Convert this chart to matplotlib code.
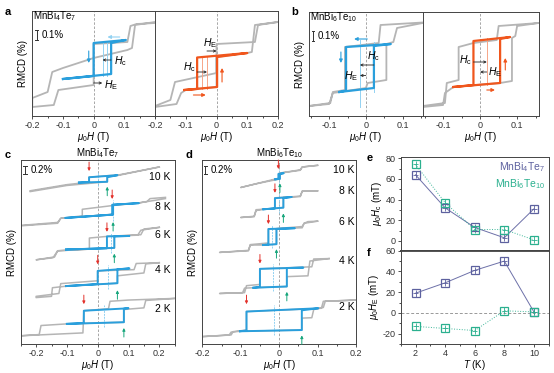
import numpy as np
import matplotlib
matplotlib.use('Agg')
import matplotlib.pyplot as plt
from matplotlib.ticker import MultipleLocator

plt.rcParams['font.family'] = ['Liberation Sans', 'DejaVu Sans']
plt.rcParams['mathtext.fontset'] = 'custom'
plt.rcParams['mathtext.rm'] = 'Liberation Sans'
plt.rcParams['mathtext.it'] = 'Liberation Sans:italic'
plt.rcParams['axes.unicode_minus'] = False
plt.rcParams['font.size'] = 6.5

GRAY = '#b5b5b5'
BLUE = '#2a9fdc'
LBLUE = '#93d2f2'
ORANGE = '#f0561d'
LORANGE = '#f7a688'
RED = '#e3312b'
GREEN = '#17a67c'
PURPLE = '#5d619f'
TEAL = '#2bb08f'

# ---- panel a (MnBi4Te7), field in T, RMCD in % ----
a1_gray = ([0.2, 0.14, 0.12, 0.11, 0.0, 0.0, -0.1, -0.135, -0.15, -0.2,
            -0.2, -0.13, -0.115, 0.0, 0.0, 0.11, 0.125, 0.135, 0.2],
           [0.93, 0.92, 0.90, 0.74, 0.72, 0.58, 0.48, 0.44, 0.24, 0.18,
            0.09, 0.11, 0.26, 0.31, 0.58, 0.66, 0.68, 0.91, 0.94])
a1_minor = ([-0.1, 0.057, 0.057, 0.105, 0.0, 0.0, -0.1],
            [0.37, 0.42, 0.73, 0.76, 0.73, 0.40, 0.37])
a2_gray = ([0.2, 0.135, 0.125, 0.0, 0.0, -0.135, -0.15, -0.2,
            -0.2, -0.13, -0.115, -0.1, 0.0, 0.0, 0.1, 0.115, 0.125, 0.2],
           [0.94, 0.91, 0.74, 0.72, 0.43, 0.34, 0.16, 0.10,
            0.09, 0.12, 0.23, 0.26, 0.29, 0.59, 0.63, 0.64, 0.91, 0.94])
a2_minor = ([-0.105, 0.002, 0.002, 0.1, -0.063, -0.063, -0.105],
            [0.26, 0.29, 0.59, 0.63, 0.585, 0.27, 0.26])

# ---- panel b (MnBi6Te10) ----
b1_gray = ([0.155, 0.04, 0.035, -0.057, -0.057, -0.09, -0.097, -0.155,
            -0.155, -0.1, -0.09, 0.0, 0.005, 0.056, 0.056, 0.075, 0.085, 0.155],
           [0.935, 0.91, 0.73, 0.69, 0.26, 0.24, 0.13, 0.10,
            0.10, 0.12, 0.23, 0.28, 0.33, 0.36, 0.72, 0.74, 0.88, 0.93])
b1_minor = ([-0.072, 0.022, 0.022, 0.068, -0.054, -0.054, -0.072],
            [0.24, 0.28, 0.70, 0.72, 0.69, 0.255, 0.24])
b2_gray = ([0.158, 0.05, 0.045, -0.018, -0.058, -0.058, -0.09, -0.095, -0.155,
            -0.155, -0.1, -0.095, -0.072, 0.054, 0.086, 0.086, 0.095, 0.1, 0.158],
           [0.93, 0.90, 0.76, 0.73, 0.69, 0.36, 0.33, 0.13, 0.10,
            0.09, 0.11, 0.23, 0.29, 0.33, 0.35, 0.78, 0.80, 0.90, 0.93])
b2_minor = ([-0.072, 0.054, 0.054, 0.081, -0.018, -0.018, -0.072],
            [0.29, 0.33, 0.77, 0.79, 0.75, 0.31, 0.29])

# ---- panel c (MnBi4Te7, offset curves) ----
temps = [2, 4, 6, 8, 10]
c_gray = {
    10: ([0.2, 0.07, -0.028, -0.028, -0.1, -0.22, -0.22, -0.1, 0.031, 0.031, 0.07, 0.2],
         [4.31, 4.12, 4.06, 3.94, 3.88, 3.73, 3.71, 3.86, 3.95, 4.07, 4.11, 4.31]),
    8: ([0.22, 0.13, 0.047, -0.05, -0.05, -0.12, -0.13, -0.245,
         -0.245, -0.13, -0.12, 0.05, 0.05, 0.13, 0.16, 0.17, 0.22],
        [3.54, 3.43, 3.37, 3.28, 3.12, 3.06, 2.96, 2.89,
         2.88, 2.94, 3.06, 3.16, 3.39, 3.43, 3.47, 3.54, 3.57]),
    6: ([0.2, 0.14, 0.13, 0.03, -0.027, -0.027, -0.13, -0.145, -0.2,
         -0.2, -0.14, -0.13, 0.054, 0.054, 0.14, 0.15, 0.2],
        [2.84, 2.77, 2.65, 2.62, 2.58, 2.31, 2.27, 2.10, 2.05,
         2.05, 2.12, 2.27, 2.34, 2.63, 2.66, 2.80, 2.84]),
    4: ([0.2, 0.125, 0.118, 0.0, 0.0, -0.12, -0.126, -0.2,
         -0.2, -0.15, -0.147, -0.1, 0.064, 0.064, 0.15, 0.156, 0.2],
        [1.98, 1.96, 1.81, 1.78, 1.54, 1.47, 1.23, 1.16,
         1.13, 1.16, 1.37, 1.41, 1.48, 1.66, 1.73, 1.95, 1.98]),
    2: ([0.25, 0.1, 0.04, 0.035, -0.045, -0.048, -0.25,
         -0.25, -0.19, -0.184, -0.1, 0.085, 0.085, 0.15, 0.156, 0.25],
        [1.11, 1.07, 1.04, 0.86, 0.81, 0.27, 0.20,
         0.20, 0.23, 0.45, 0.49, 0.53, 0.84, 0.88, 1.06, 1.11]),
}
c_minor = {
    10: ([-0.061, 0.031, 0.031, 0.064, -0.028, -0.028, -0.061],
         [3.93, 3.95, 4.06, 4.11, 4.06, 3.94, 3.93]),
    8: ([-0.104, 0.05, 0.05, 0.134, 0.047, 0.047, -0.104],
        [3.07, 3.15, 3.39, 3.43, 3.39, 3.15, 3.07]),
    6: ([-0.103, 0.054, 0.054, 0.103, 0.030, 0.030, -0.103],
        [2.30, 2.34, 2.62, 2.63, 2.62, 2.33, 2.30]),
    4: ([-0.103, 0.064, 0.064, 0.103, 0.0, 0.0, -0.103],
        [1.41, 1.48, 1.82, 1.84, 1.78, 1.46, 1.41]),
    2: ([-0.1, 0.085, 0.085, 0.1, -0.045, -0.045, -0.1],
        [0.49, 0.53, 0.86, 0.87, 0.81, 0.51, 0.49]),
}
c_label_y = {10: 4.07, 8: 3.34, 6: 2.66, 4: 1.81, 2: 0.85}

# ---- panel d (MnBi6Te10, offset curves) ----
d_gray = {
    10: ([0.1, 0.06, 0.055, 0.0, 0.0, -0.1, -0.1, -0.06, 0.002, 0.002, 0.055, 0.06, 0.1],
         [4.35, 4.31, 4.24, 4.16, 4.04, 3.81, 3.81, 3.90, 4.02, 4.16, 4.23, 4.31, 4.35]),
    8: ([0.1, 0.06, 0.055, -0.011, -0.011, -0.06, -0.065, -0.1,
         -0.1, -0.065, -0.06, -0.041, 0.011, 0.011, 0.055, 0.06, 0.1],
        [3.73, 3.72, 3.59, 3.56, 3.30, 3.27, 3.11, 3.08,
         3.08, 3.10, 3.25, 3.28, 3.32, 3.57, 3.60, 3.72, 3.73]),
    6: ([0.1, 0.065, 0.06, -0.028, -0.028, -0.075, -0.08, -0.155,
         -0.155, -0.08, -0.075, -0.041, -0.007, -0.007, 0.06, 0.065, 0.075, 0.1],
        [2.99, 2.94, 2.83, 2.80, 2.46, 2.42, 2.28, 2.23,
         2.23, 2.27, 2.41, 2.41, 2.43, 2.81, 2.86, 2.94, 2.98, 2.99]),
    4: ([0.13, 0.09, 0.085, -0.05, -0.05, -0.085, -0.09, -0.155,
         -0.155, -0.095, -0.09, -0.067, 0.02, 0.02, 0.075, 0.08, 0.13],
        [2.08, 2.07, 1.88, 1.83, 1.45, 1.42, 1.25, 1.23,
         1.23, 1.25, 1.36, 1.37, 1.40, 1.64, 1.66, 2.02, 2.08]),
    2: ([0.2, 0.115, 0.11, -0.085, -0.085, -0.12, -0.125, -0.2,
         -0.2, -0.13, -0.125, -0.102, 0.059, 0.059, 0.085, 0.09, 0.115, 0.12, 0.2],
        [1.07, 1.04, 0.87, 0.79, 0.34, 0.30, 0.22, 0.18,
         0.18, 0.22, 0.29, 0.31, 0.34, 0.63, 0.64, 0.84, 0.89, 1.04, 1.07]),
}
d_minor = {
    10: ([-0.01, 0.002, 0.002, 0.012, -0.002, -0.002, -0.01],
         [4.01, 4.02, 4.14, 4.16, 4.14, 4.02, 4.01]),
    8: ([-0.041, 0.011, 0.011, 0.033, -0.011, -0.011, -0.041],
        [3.28, 3.32, 3.55, 3.58, 3.55, 3.30, 3.28]),
    6: ([-0.041, -0.007, -0.007, 0.041, -0.028, -0.028, -0.041],
        [2.41, 2.43, 2.80, 2.82, 2.80, 2.42, 2.41]),
    4: ([-0.067, 0.02, 0.02, 0.063, -0.05, -0.05, -0.067],
        [1.37, 1.40, 1.85, 1.86, 1.83, 1.39, 1.37]),
    2: ([-0.102, 0.059, 0.059, 0.102, -0.085, -0.085, -0.102],
        [0.31, 0.34, 0.82, 0.87, 0.79, 0.33, 0.31]),
}
d_label_y = {10: 4.24, 8: 3.73, 6: 2.96, 4: 2.03, 2: 0.91}

# ---- panels e, f ----
T = [2, 4, 6, 8, 10]
Hc_47 = [64, 32, 13, 3, 31]
Hc_610 = [74, 37, 11, 11, 1]
HE_47 = [19, 29, 41, 50, 1]
HE_610 = [-13, -15, -17, 2, 1]

W, H = 554, 373
fig = plt.figure(figsize=(W / 100, H / 100), dpi=100)


def rect(l, t, r, b):
    return [l / W, 1 - b / H, (r - l) / W, (b - t) / H]


def loop_axes(r, xlim, ylim, ticks, ylabel=None):
    ax = fig.add_axes(r)
    ax.set_xlim(*xlim)
    ax.set_ylim(*ylim)
    ax.set_yticks([])
    ax.set_xticks(ticks)
    ax.xaxis.set_minor_locator(MultipleLocator(0.05))
    ax.tick_params(axis='x', which='major', length=2.5, width=0.6, pad=1, labelsize=6.5, colors='#333333')
    ax.tick_params(axis='x', which='minor', length=1.5, width=0.5)
    ax.xaxis.set_major_formatter(plt.FuncFormatter(lambda v, p: '0' if abs(v) < 1e-9 else '%g' % v))
    for s in ax.spines.values():
        s.set_linewidth(0.7)
        s.set_color('#444444')
    ax.axvline(0, color='#999999', lw=0.6, ls=(0, (3, 2)), zorder=0)
    ax.set_xlabel(r'$\mu_0H$ (T)', fontsize=7, labelpad=0)
    if ylabel:
        ax.set_ylabel(ylabel, fontsize=7, labelpad=3)
    return ax


def arrow(ax, x0, y0, x1, y1, color, lw=0.8, ms=5):
    ax.annotate('', xy=(x1, y1), xytext=(x0, y0),
                arrowprops=dict(arrowstyle='-|>', color=color, lw=lw, mutation_scale=ms,
                                shrinkA=0, shrinkB=0))


def hline_arrow(ax, x0, x1, y):
    ax.annotate('', xy=(x1, y), xytext=(x0, y),
                arrowprops=dict(arrowstyle='->', color='#222222', lw=0.6, mutation_scale=4,
                                shrinkA=0, shrinkB=0))


def scalebar(ax, x, y0, y1, text):
    ax.plot([x, x], [y0, y1], color='#333333', lw=0.7)
    dx = (ax.get_xlim()[1] - ax.get_xlim()[0]) * 0.012
    ax.plot([x - dx, x + dx], [y0, y0], color='#333333', lw=0.7)
    ax.plot([x - dx, x + dx], [y1, y1], color='#333333', lw=0.7)
    ax.text(x + 3 * dx, (y0 + y1) / 2, text, fontsize=7, va='center', ha='left')


ticks_a = [-0.2, -0.1, 0, 0.1, 0.2]
ticks_b = [-0.1, 0, 0.1]

# ---------- a ----------
ax = loop_axes(rect(32.3, 11, 155, 116), (-0.2, 0.2), (0, 1.05), ticks_a[:-1], 'RMCD (%)')
ax.plot(*a1_gray, color=GRAY, lw=1.3)
for xv in (0.029, 0.045):
    ax.plot([xv, xv], [0.40, 0.73], color=LBLUE, lw=0.7)
ax.plot(*a1_minor, color=BLUE, lw=1.6)
hline_arrow(ax, 0.057, 0.029, 0.56)
ax.text(0.066, 0.55, r'$H_\mathrm{c}$', fontsize=7.5, va='center')
hline_arrow(ax, 0.0, 0.028, 0.33)
ax.text(0.034, 0.31, r'$H_\mathrm{E}$', fontsize=7.5, va='center')
arrow(ax, 0.085, 0.79, 0.045, 0.79, LBLUE)
arrow(ax, -0.016, 0.65, -0.016, 0.53, BLUE)
scalebar(ax, -0.185, 0.76, 0.86, '0.1%')
ax.text(-0.197, 1.0, r'MnBi$_4$Te$_7$', fontsize=7, va='center')

ax = loop_axes(rect(155, 11, 278, 116), (-0.2, 0.198), (0, 1.05), ticks_a)
ax.plot(*a2_gray, color=GRAY, lw=1.3)
for xv in (-0.047, -0.031):
    ax.plot([xv, xv], [0.27, 0.59], color=LORANGE, lw=0.7)
ax.plot(*a2_minor, color=ORANGE, lw=1.6)
hline_arrow(ax, -0.031, 0.0, 0.65)
ax.text(-0.02, 0.73, r'$H_\mathrm{E}$', fontsize=7.5, va='center', ha='center')
hline_arrow(ax, -0.063, -0.031, 0.44)
ax.text(-0.066, 0.49, r'$H_\mathrm{c}$', fontsize=7.5, va='center', ha='right')
arrow(ax, 0.018, 0.34, 0.018, 0.48, ORANGE)
arrow(ax, -0.075, 0.21, -0.035, 0.21, ORANGE)

# ---------- b ----------
ax = loop_axes(rect(309, 12, 422.7, 116), (-0.155, 0.155), (0, 1.04), ticks_b, 'RMCD (%)')
ax.plot(*b1_gray, color=GRAY, lw=1.3)
ax.plot([-0.016, -0.016], [0.09, 0.76], color=LBLUE, lw=0.7)
ax.plot([0.022, 0.022], [0.24, 0.74], color=LBLUE, lw=0.7)
ax.plot(*b1_minor, color=BLUE, lw=1.6)
hline_arrow(ax, 0.022, -0.016, 0.51)
ax.text(0.003, 0.60, r'$H_\mathrm{c}$', fontsize=7.5, va='center')
hline_arrow(ax, 0.0, -0.016, 0.405)
ax.text(-0.02, 0.40, r'$H_\mathrm{E}$', fontsize=7.5, va='center', ha='right')
arrow(ax, 0.004, 0.77, -0.032, 0.77, BLUE)
arrow(ax, -0.068, 0.64, -0.068, 0.53, BLUE)
scalebar(ax, -0.144, 0.75, 0.85, '0.1%')
ax.text(-0.153, 0.99, r'MnBi$_6$Te$_{10}$', fontsize=7, va='center')

ax = loop_axes(rect(422.7, 12, 539, 116), (-0.155, 0.159), (0, 1.04), ticks_b)
ax.plot(*b2_gray, color=GRAY, lw=1.3)
ax.plot([0.018, 0.018], [0.31, 0.78], color=LORANGE, lw=0.7)
ax.plot(*b2_minor, color=ORANGE, lw=1.6)
hline_arrow(ax, -0.018, 0.018, 0.54)
ax.text(-0.022, 0.56, r'$H_\mathrm{c}$', fontsize=7.5, va='center', ha='right')
hline_arrow(ax, 0.018, 0.0, 0.44)
ax.text(0.022, 0.44, r'$H_\mathrm{E}$', fontsize=7.5, va='center')
arrow(ax, 0.018, 0.26, 0.04, 0.26, ORANGE)
arrow(ax, 0.068, 0.46, 0.068, 0.58, ORANGE)


# ---------- c, d ----------
def stack_panel(r, xlim, gray, minor, label_y, label_x, title, bar_x):
    ax = loop_axes(r, xlim, (0, 4.48), ticks_a, 'RMCD (%)')
    for t in temps:
        ax.plot(*gray[t], color=GRAY, lw=1.1)
        mx, my = minor[t]
        xu, xd = mx[1], mx[4]
        lo, hi = my[0], my[3]
        ax.plot([(xu + xd) / 2] * 2, [lo - 0.08, hi + 0.08], color=LBLUE, lw=0.7, ls=(0, (2, 1)))
        ax.plot(mx, my, color=BLUE, lw=1.4)
        arrow(ax, xd, hi + 0.32, xd, hi + 0.1, RED, lw=0.7, ms=4)
        arrow(ax, xu, lo - 0.32, xu, lo - 0.1, GREEN, lw=0.7, ms=4)
        ax.text(label_x, label_y[t], '%d K' % t, fontsize=7.5, ha='right', va='center')
    ax.set_title(title, fontsize=7, pad=1.5)
    scalebar(ax, bar_x, 4.13, 4.33, '0.2%')
    return ax


stack_panel(rect(20.7, 160, 174.7, 344), (-0.25, 0.25), c_gray, c_minor, c_label_y, 0.237,
            r'MnBi$_4$Te$_7$', -0.235)
stack_panel(rect(202.3, 160, 356, 344), (-0.2, 0.2), d_gray, d_minor, d_label_y, 0.196,
            r'MnBi$_6$Te$_{10}$', -0.192)


# ---------- e, f ----------
def small_axes(r):
    ax = fig.add_axes(r)
    ax.set_xlim(1, 11)
    ax.xaxis.set_major_locator(MultipleLocator(2))
    ax.xaxis.set_minor_locator(MultipleLocator(1))
    ax.tick_params(which='major', length=2.5, width=0.6, pad=1, labelsize=6.5, colors='#333333')
    ax.tick_params(which='minor', length=1.5, width=0.5)
    for s in ax.spines.values():
        s.set_linewidth(0.7)
        s.set_color('#444444')
    return ax


def series(ax, y, color, ls, yerr):
    ax.plot(T, y, color=color, lw=0.7, ls=ls, alpha=0.9)
    ax.errorbar(T, y, xerr=0.18, yerr=yerr, fmt='s', ms=6, mfc='none', mec=color, mew=0.9,
                ecolor=color, elinewidth=0.6, capsize=0)


ax_e = small_axes(rect(400.7, 156.7, 548.7, 250.7))
ax_e.set_ylim(-9.5, 81.5)
ax_e.yaxis.set_major_locator(MultipleLocator(20))
ax_e.yaxis.set_minor_locator(MultipleLocator(10))
ax_e.tick_params(axis='x', labelbottom=False)
series(ax_e, Hc_47, PURPLE, '-', 3.5)
series(ax_e, Hc_610, TEAL, ':', 3.5)
ax_e.set_ylabel(r'$\mu_0H_\mathrm{c}$ (mT)', fontsize=7, labelpad=1)
ax_e.text(0.975, 0.89, r'MnBi$_4$Te$_7$', color=PURPLE, fontsize=7.5, ha='right', va='center',
          transform=ax_e.transAxes)
ax_e.text(0.975, 0.71, r'MnBi$_6$Te$_{10}$', color=TEAL, fontsize=7.5, ha='right', va='center',
          transform=ax_e.transAxes)
ax_e.spines['bottom'].set_linewidth(1.3)

ax_f = small_axes(rect(400.7, 250.7, 548.7, 344))
ax_f.set_ylim(-30, 60)
ax_f.yaxis.set_major_locator(MultipleLocator(20))
ax_f.yaxis.set_minor_locator(MultipleLocator(10))
ax_f.axhline(0, color='#999999', lw=0.7, ls=(0, (3, 2)), zorder=0)
series(ax_f, HE_47, PURPLE, '-', 3.5)
series(ax_f, HE_610, TEAL, ':', 3.5)
ax_f.set_ylabel(r'$\mu_0H_\mathrm{E}$ (mT)', fontsize=7, labelpad=1)
ax_f.set_xlabel(r'$T$ (K)', fontsize=7, labelpad=0)
ax_f.spines['top'].set_linewidth(1.3)

# panel letters
for letter, px, py in [('a', 5, 12), ('b', 291, 12), ('c', 5, 155), ('d', 186, 155),
                       ('e', 367, 158), ('f', 367, 253)]:
    fig.text(px / W, 1 - py / H, letter, fontsize=8, fontweight='bold', va='center')

fig.savefig('out.png', dpi=100)
